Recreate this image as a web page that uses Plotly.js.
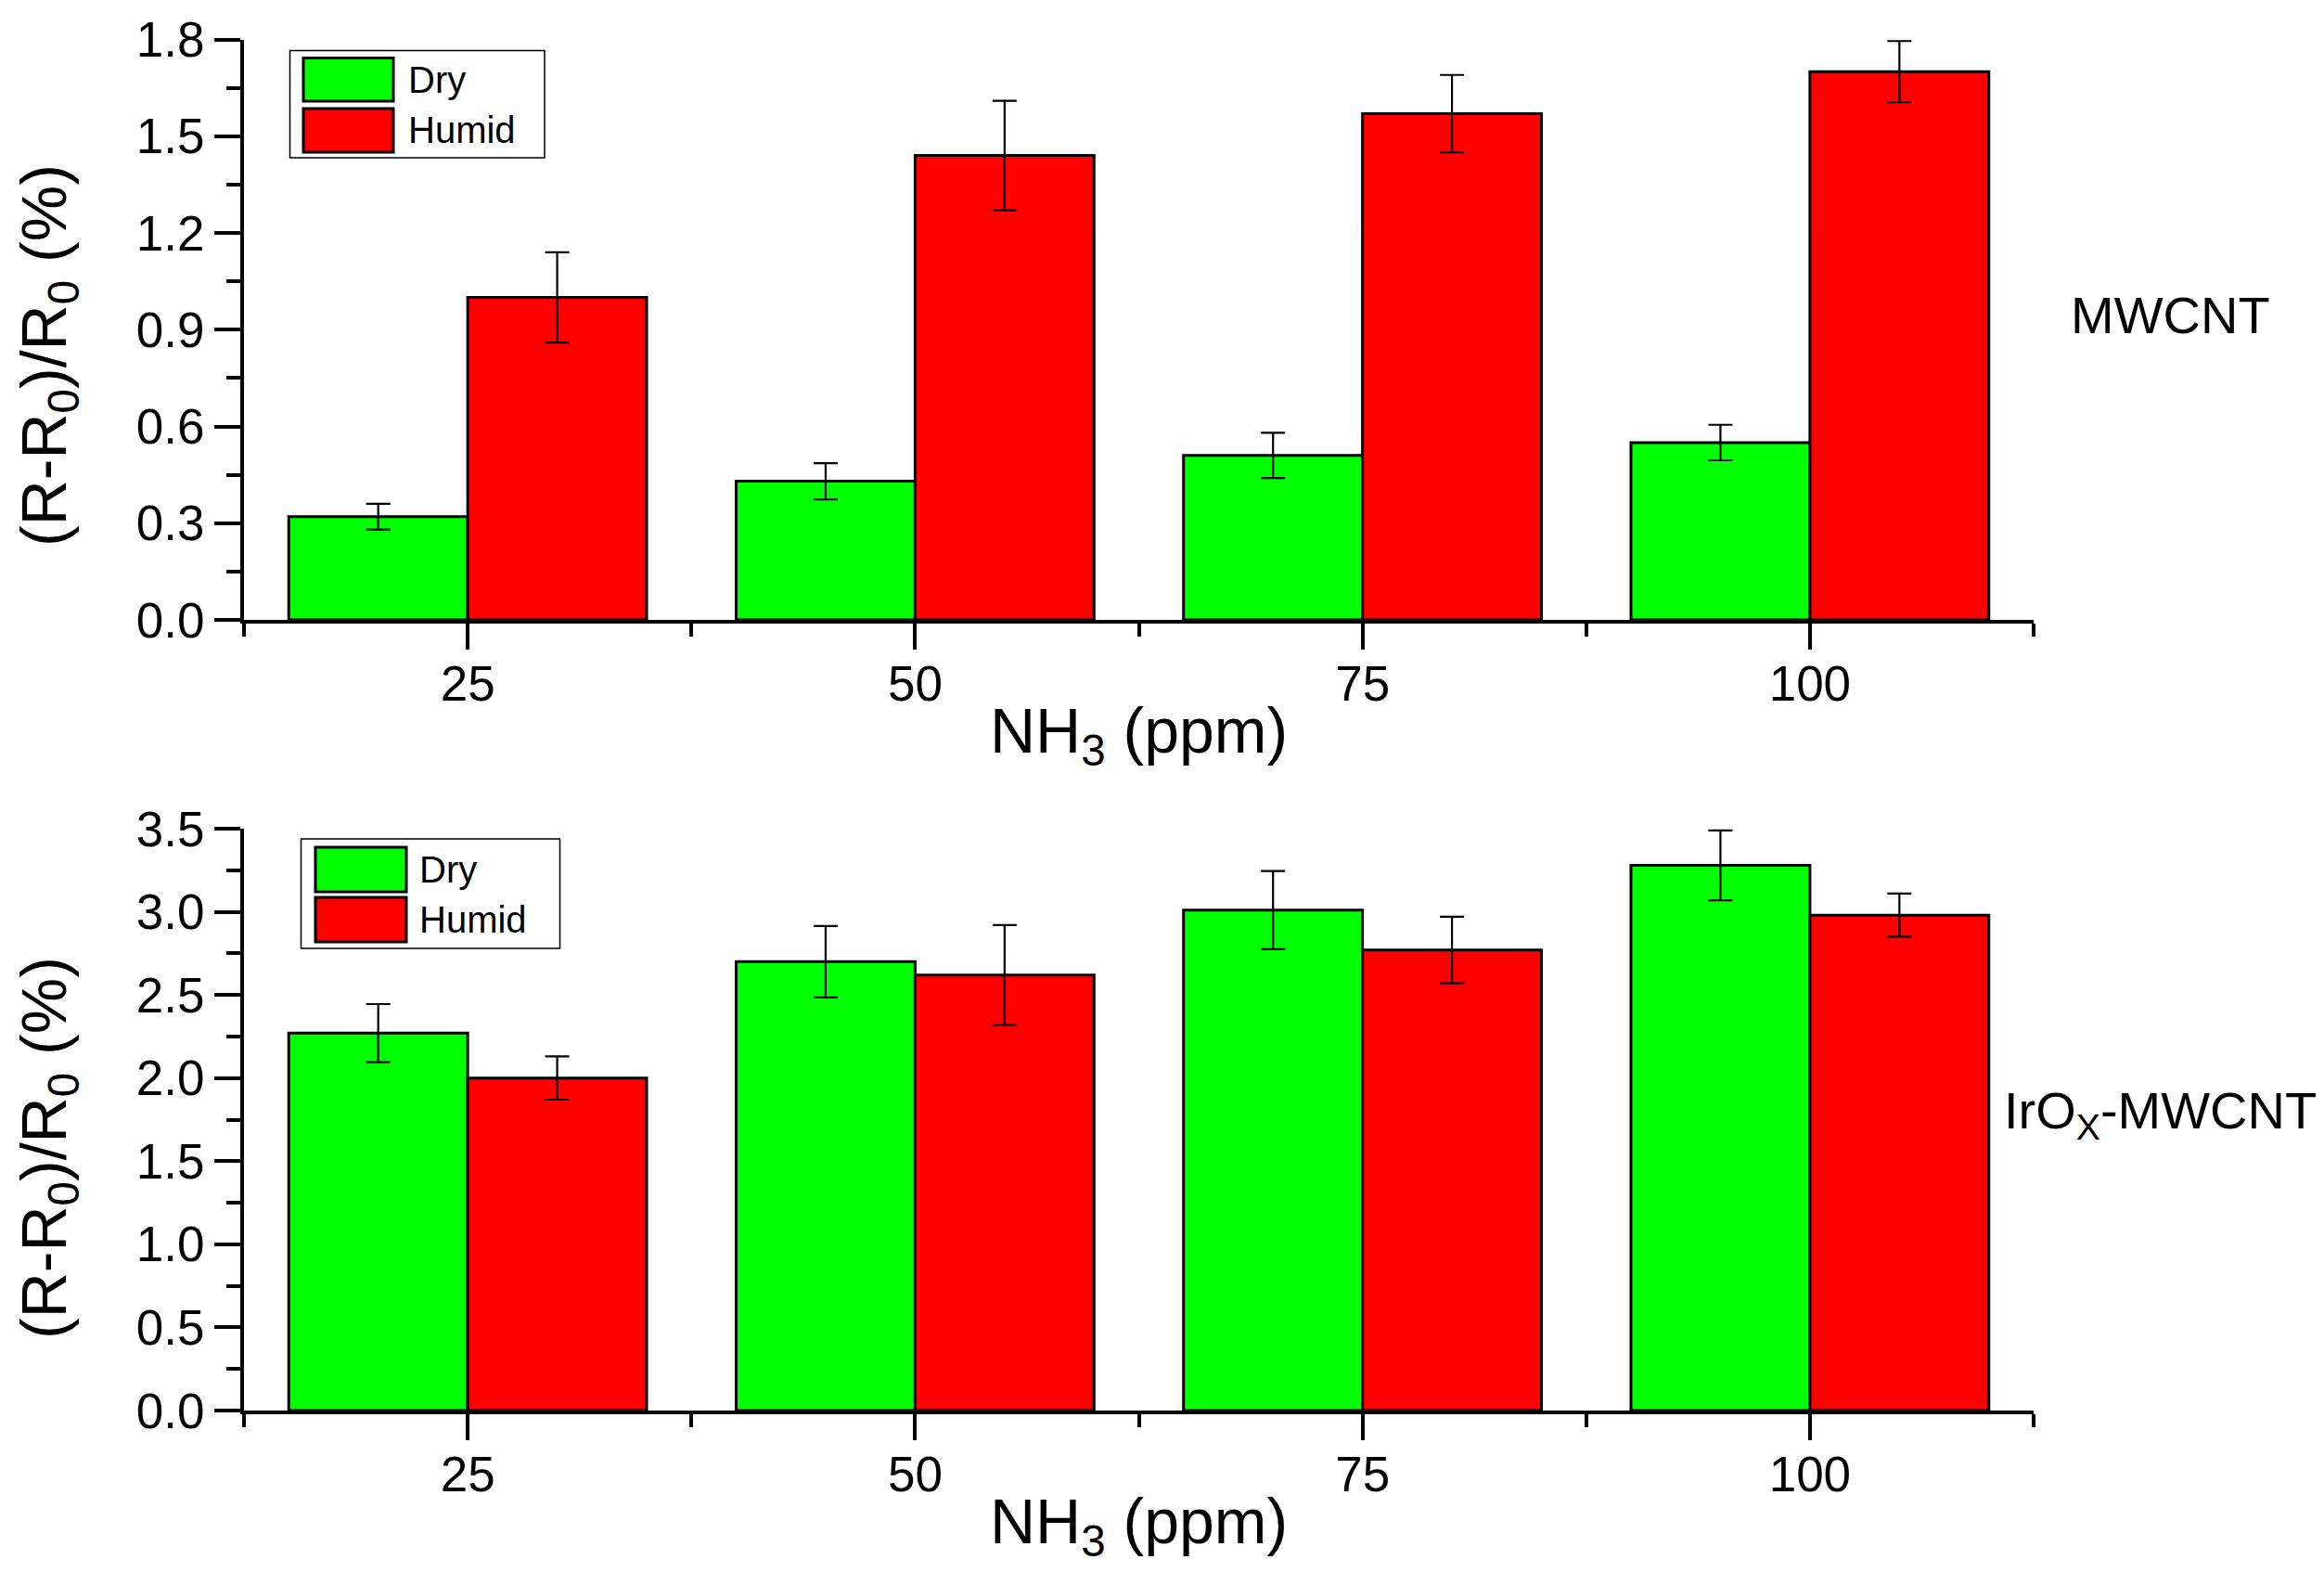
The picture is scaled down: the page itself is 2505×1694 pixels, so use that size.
<!DOCTYPE html>
<html>
<head>
<meta charset="utf-8">
<script src="https://cdn.plot.ly/plotly-3.0.1.min.js"></script>
<style>html,body{margin:0;padding:0;background:#fff;}#chart{width:2505px;height:1694px;}</style>
</head>
<body>
<div id="chart"></div>
<script>
// ---- data ----
const categories = ['25', '50', '75', '100'];
const seriesNames = ['Dry', 'Humid'];

// Top panel: MWCNT
const mwcntDry = [0.32, 0.43, 0.51, 0.55];
const mwcntDryErr = [0.04, 0.056, 0.07, 0.055];
const mwcntHumid = [1.00, 1.44, 1.57, 1.70];
const mwcntHumidErr = [0.14, 0.17, 0.12, 0.095];

// Bottom panel: IrOx-MWCNT
const irDry = [2.27, 2.70, 3.01, 3.28];
const irDryErr = [0.175, 0.215, 0.235, 0.21];
const irHumid = [2.00, 2.62, 2.77, 2.98];
const irHumidErr = [0.13, 0.30, 0.20, 0.13];

const topTicks = [0.0, 0.3, 0.6, 0.9, 1.2, 1.5, 1.8];
const bottomTicks = [0.0, 0.5, 1.0, 1.5, 2.0, 2.5, 3.0, 3.5];

const xTitle = 'NH<sub>3</sub> (ppm)';
const yTitle = '(R-R<sub>0</sub>)/R<sub>0</sub> (%)';
const panelLabels = ['MWCNT', 'IrO<sub>X</sub>-MWCNT'];

// ---- layout helpers ----
const W = 2505, H = 1694;
const px = v => v / W;
const py = v => 1 - v / H;
const FONT = 'Liberation Sans, Arial, sans-serif';
const GREEN = '#00ff00', RED = '#ff0000';
const xIdx = categories.map((c, i) => i);

function barTrace(name, y, err, color, xa, ya) {
  return {
    type: 'bar', name: name, x: xIdx, y: y, xaxis: xa, yaxis: ya,
    marker: {color: color, line: {color: '#000', width: 3}},
    error_y: {type: 'data', array: err, visible: true, color: '#000', thickness: 2.2, width: 13},
    showlegend: false, hoverinfo: 'skip'
  };
}

const traces = [
  barTrace(seriesNames[0], mwcntDry, mwcntDryErr, GREEN, 'x', 'y'),
  barTrace(seriesNames[1], mwcntHumid, mwcntHumidErr, RED, 'x', 'y'),
  barTrace(seriesNames[0], irDry, irDryErr, GREEN, 'x2', 'y2'),
  barTrace(seriesNames[1], irHumid, irHumidErr, RED, 'x2', 'y2')
];

const xDomain = [px(263), px(2192)];

function xAxis(anchor) {
  return {
    domain: xDomain, anchor: anchor, range: [-0.5, categories.length - 0.5],
    tickmode: 'array', tickvals: xIdx, ticktext: categories,
    showline: true, linecolor: '#000', linewidth: 4, mirror: false,
    ticks: 'outside', ticklen: 28, tickwidth: 4, tickcolor: '#000',
    minor: {tick0: -0.5, dtick: 1, ticks: 'outside', ticklen: 14, tickwidth: 4, tickcolor: '#000', showgrid: false},
    showgrid: false, zeroline: false,
    ticklabelstandoff: -9,
    tickfont: {family: FONT, size: 53, color: '#000'},
    title: {text: xTitle, font: {family: FONT, size: 68, color: '#000'}, standoff: 0},
    automargin: false
  };
}

function yAxis(anchor, domain, range, ticks, minorStep) {
  return {
    domain: domain, anchor: anchor, range: range,
    tickmode: 'array', tickvals: ticks, tickformat: '.1f',
    showline: true, linecolor: '#000', linewidth: 4,
    ticks: 'outside', ticklen: 28, tickwidth: 4, tickcolor: '#000',
    minor: {dtick: minorStep, ticks: 'outside', ticklen: 15, tickwidth: 4, tickcolor: '#000', showgrid: false},
    showgrid: false, zeroline: false,
    tickfont: {family: FONT, size: 53, color: '#000'},
    automargin: false
  };
}

// legend drawn as shapes + text
function legendShapes(box, sw1, sw2) {
  return [
    {type: 'rect', xref: 'paper', yref: 'paper', x0: px(box[0]), x1: px(box[1]), y0: py(box[3]), y1: py(box[2]),
     line: {color: '#000', width: 1.5}, fillcolor: '#fff', layer: 'above'},
    {type: 'rect', xref: 'paper', yref: 'paper', x0: px(sw1[0]), x1: px(sw1[1]), y0: py(sw1[3]), y1: py(sw1[2]),
     line: {color: '#000', width: 3}, fillcolor: GREEN, layer: 'above'},
    {type: 'rect', xref: 'paper', yref: 'paper', x0: px(sw2[0]), x1: px(sw2[1]), y0: py(sw2[3]), y1: py(sw2[2]),
     line: {color: '#000', width: 3}, fillcolor: RED, layer: 'above'}
  ];
}
function legendText(x, y1, y2) {
  return [
    {xref: 'paper', yref: 'paper', x: px(x), y: py(y1), xanchor: 'left', yanchor: 'middle', showarrow: false,
     text: seriesNames[0], font: {family: FONT, size: 40, color: '#000'}},
    {xref: 'paper', yref: 'paper', x: px(x), y: py(y2), xanchor: 'left', yanchor: 'middle', showarrow: false,
     text: seriesNames[1], font: {family: FONT, size: 40, color: '#000'}}
  ];
}
function yTitleAnn(yc) {
  return {xref: 'paper', yref: 'paper', x: px(52), y: py(yc), xanchor: 'center', yanchor: 'middle',
          textangle: -90, showarrow: false, text: yTitle, font: {family: FONT, size: 68, color: '#000'}};
}

const shapes = [].concat(
  legendShapes([312.5, 587, 54.5, 170], [327, 424, 62.5, 109], [327, 424, 117, 164]),
  legendShapes([324.5, 603.5, 904, 1022], [340, 438, 913, 961], [340, 438, 967, 1015])
);

const annotations = [].concat(
  legendText(438, 86, 140),
  legendText(450, 937, 991),
  [
    yTitleAnn(383),
    yTitleAnn(1237),
    {xref: 'paper', yref: 'paper', x: px(2230), y: py(339), xanchor: 'left', yanchor: 'middle', showarrow: false,
     text: panelLabels[0], font: {family: FONT, size: 56, color: '#000'}},
    {xref: 'paper', yref: 'paper', x: px(2158), y: py(1200), xanchor: 'left', yanchor: 'middle', showarrow: false,
     text: panelLabels[1], font: {family: FONT, size: 56, color: '#000'}}
  ]
);

const layout = {
  width: W, height: H,
  margin: {l: 0, r: 0, t: 0, b: 0, pad: 0},
  paper_bgcolor: '#fff', plot_bgcolor: '#fff',
  barmode: 'group', bargap: 0.2, bargroupgap: 0,
  showlegend: false,
  xaxis: xAxis('y'),
  yaxis: yAxis('x', [py(668), py(42.5)], [0, 1.8], topTicks, 0.15),
  xaxis2: xAxis('y2'),
  yaxis2: yAxis('x2', [py(1520), py(893)], [0, 3.5], bottomTicks, 0.25),
  shapes: shapes,
  annotations: annotations
};

Plotly.newPlot('chart', traces, layout, {staticPlot: true, displayModeBar: false});
</script>
</body>
</html>
